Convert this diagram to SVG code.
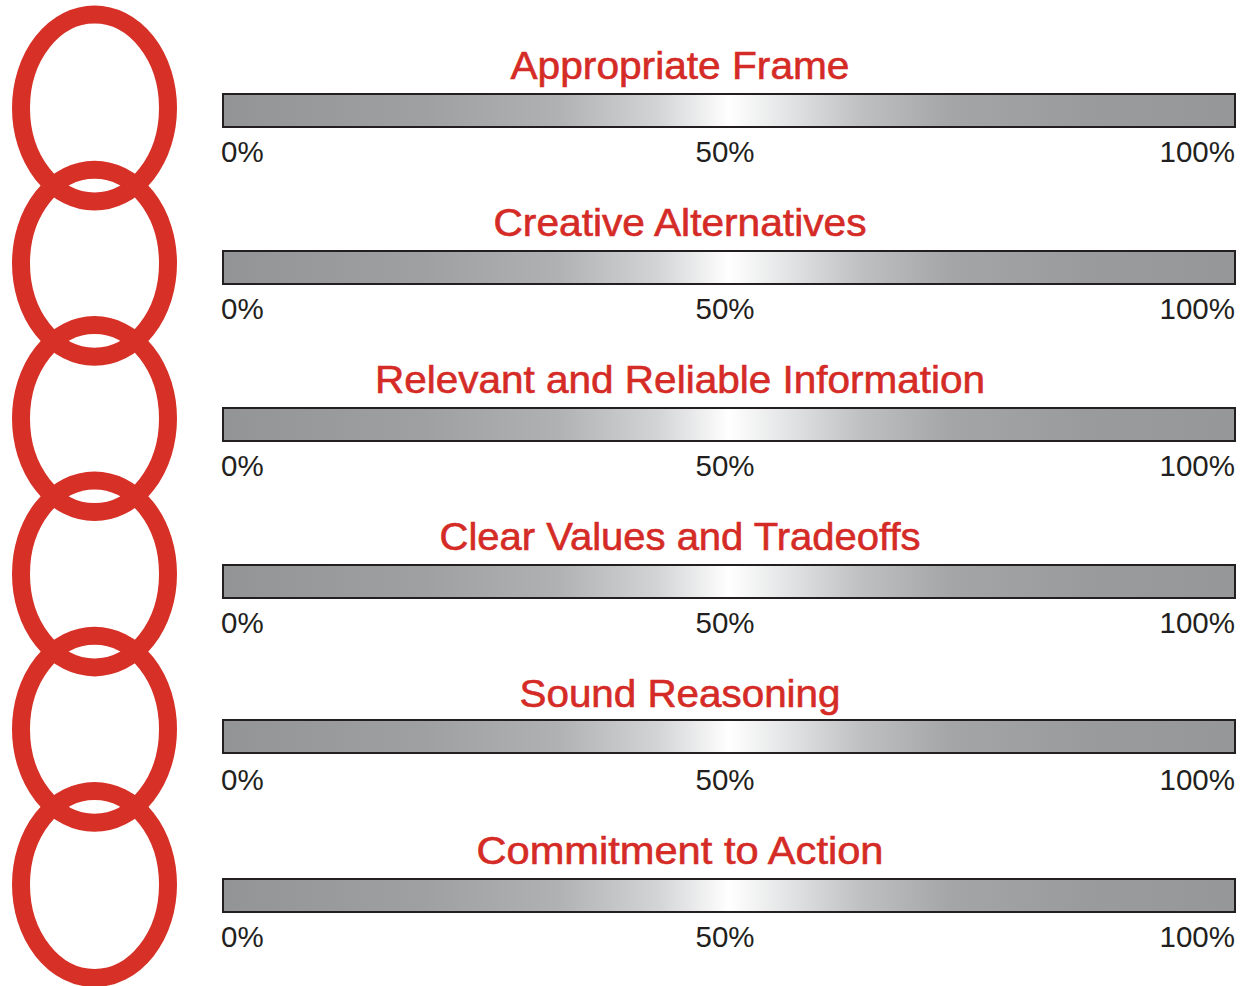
<svg xmlns="http://www.w3.org/2000/svg" width="1241" height="986" viewBox="0 0 1241 986">
<defs>
<linearGradient id="g" x1="0" y1="0" x2="1" y2="0">
<stop offset="0" stop-color="#939495"/>
<stop offset="0.2" stop-color="#9fa0a2"/>
<stop offset="0.33" stop-color="#b0b1b3"/>
<stop offset="0.43" stop-color="#d3d4d6"/>
<stop offset="0.5" stop-color="#ffffff"/>
<stop offset="0.56" stop-color="#e2e3e4"/>
<stop offset="0.63" stop-color="#bfc0c2"/>
<stop offset="0.72" stop-color="#a4a5a7"/>
<stop offset="0.85" stop-color="#9a9b9d"/>
<stop offset="1" stop-color="#969799"/>
</linearGradient>
</defs>
<style>
.link{fill:none;stroke:#d63027;stroke-width:18}
.bar{fill:url(#g);stroke:#231f20;stroke-width:2}
.t{font-family:"Liberation Sans",Arial,sans-serif;font-size:38.5px;fill:#d52b26;stroke:#d52b26;stroke-width:0.6;text-anchor:middle}
.p{font-family:"Liberation Sans",Arial,sans-serif;font-size:29.5px;fill:#231f20}
</style>
<rect width="1241" height="986" fill="#ffffff"/>
<g id="chain">
<ellipse class="link" cx="94.5" cy="108" rx="73.5" ry="93.5"/>
<ellipse class="link" cx="94.5" cy="263.3" rx="73.5" ry="93.5"/>
<ellipse class="link" cx="94.5" cy="418.6" rx="73.5" ry="93.5"/>
<ellipse class="link" cx="94.5" cy="573.9" rx="73.5" ry="93.5"/>
<ellipse class="link" cx="94.5" cy="729.2" rx="73.5" ry="93.5"/>
<ellipse class="link" cx="94.5" cy="884.5" rx="73.5" ry="93.5"/>
</g>
<g id="row1">
<text class="t" x="680" y="79" textLength="339" lengthAdjust="spacingAndGlyphs">Appropriate Frame</text>
<rect class="bar" x="223" y="94" width="1012" height="33"/>
<text class="p" x="221" y="162">0%</text>
<text class="p" x="725" y="162" text-anchor="middle">50%</text>
<text class="p" x="1235" y="162" text-anchor="end">100%</text>
</g>
<g id="row2">
<text class="t" x="680" y="236" textLength="373" lengthAdjust="spacingAndGlyphs">Creative Alternatives</text>
<rect class="bar" x="223" y="251" width="1012" height="33"/>
<text class="p" x="221" y="319">0%</text>
<text class="p" x="725" y="319" text-anchor="middle">50%</text>
<text class="p" x="1235" y="319" text-anchor="end">100%</text>
</g>
<g id="row3">
<text class="t" x="680" y="393" textLength="610" lengthAdjust="spacingAndGlyphs">Relevant and Reliable Information</text>
<rect class="bar" x="223" y="408" width="1012" height="33"/>
<text class="p" x="221" y="476">0%</text>
<text class="p" x="725" y="476" text-anchor="middle">50%</text>
<text class="p" x="1235" y="476" text-anchor="end">100%</text>
</g>
<g id="row4">
<text class="t" x="680" y="550" textLength="481" lengthAdjust="spacingAndGlyphs">Clear Values and Tradeoffs</text>
<rect class="bar" x="223" y="565" width="1012" height="33"/>
<text class="p" x="221" y="633">0%</text>
<text class="p" x="725" y="633" text-anchor="middle">50%</text>
<text class="p" x="1235" y="633" text-anchor="end">100%</text>
</g>
<g id="row5">
<text class="t" x="680" y="707" textLength="321" lengthAdjust="spacingAndGlyphs">Sound Reasoning</text>
<rect class="bar" x="223" y="720" width="1012" height="33"/>
<text class="p" x="221" y="790">0%</text>
<text class="p" x="725" y="790" text-anchor="middle">50%</text>
<text class="p" x="1235" y="790" text-anchor="end">100%</text>
</g>
<g id="row6">
<text class="t" x="680" y="864" textLength="407" lengthAdjust="spacingAndGlyphs">Commitment to Action</text>
<rect class="bar" x="223" y="879" width="1012" height="33"/>
<text class="p" x="221" y="947">0%</text>
<text class="p" x="725" y="947" text-anchor="middle">50%</text>
<text class="p" x="1235" y="947" text-anchor="end">100%</text>
</g>
</svg>
